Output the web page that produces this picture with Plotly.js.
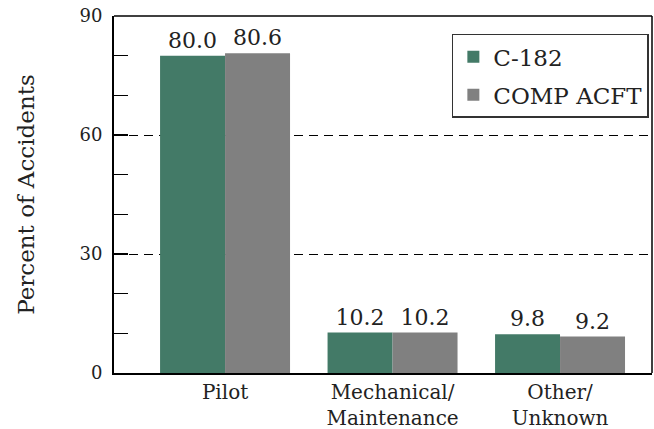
<!DOCTYPE html>
<html>
<head>
<meta charset="utf-8">
<script src="https://cdn.plot.ly/plotly-3.0.1.min.js"></script>
<style>html,body{margin:0;padding:0;background:#fff;}#chart{width:654px;height:429px;}</style>
</head>
<body>
<div id="chart"></div>
<script>
const categories = ["Pilot", "Mechanical/<br>Maintenance", "Other/<br>Unknown"];
const seriesNames = ["C-182", "COMP ACFT"];
const c182 = [80.0, 10.2, 9.8];
const compAcft = [80.6, 10.2, 9.2];
const yTicks = [0, 30, 60, 90];

const FONT = "DejaVu Serif, Liberation Serif, serif";
const fmt = v => v.toFixed(1);

const traces = [
  {type:'bar', name: seriesNames[0], legendgroup:'a', x: categories, y: c182,
   text: c182.map(fmt), textposition:'outside', constraintext:'none', cliponaxis:false,
   textfont:{family:FONT, size:22, color:'#222'},
   marker:{color:'#437a67'}},
  {type:'bar', name: seriesNames[1], legendgroup:'b', x: categories, y: compAcft,
   text: compAcft.map(fmt), textposition:'outside', constraintext:'none', cliponaxis:false,
   textfont:{family:FONT, size:22, color:'#222'},
   marker:{color:'#808080'}}
];

const layout = {
  width:654, height:429,
  margin:{l:114, r:2, t:16, b:56},
  paper_bgcolor:'#fff', plot_bgcolor:'#fff',
  font:{family:FONT, color:'#222'},
  barmode:'group', bargap:0.224, bargroupgap:0,
  showlegend:true,
  legend:{x:0.628, y:0.95, xanchor:'left', yanchor:'top',
    traceorder:'grouped', tracegroupgap:5,
    bordercolor:'#333', borderwidth:1.5, bgcolor:'#fff',
    font:{family:FONT, size:23, color:'#222'}},
  xaxis:{type:'category', range:[-0.663, 2.549], showline:true, linecolor:'#000', linewidth:2,
    ticks:'', showgrid:false, zeroline:false, ticklabelstandoff:0,
    tickfont:{family:FONT, size:20, color:'#222'}},
  yaxis:{range:[0,90], tickvals:yTicks, ticktext:yTicks.map(String),
    showline:true, linecolor:'#000', linewidth:2,
    ticks:'inside', ticklen:14, tickwidth:1.3, tickcolor:'#000',
    minor:{dtick:10, ticks:'inside', ticklen:14, tickwidth:1.3, tickcolor:'#000', showgrid:false},
    showgrid:true, gridcolor:'#000', gridwidth:1, griddash:'9px,6px',
    zeroline:false, ticklabelstandoff:6,
    tickfont:{family:FONT, size:18, color:'#222'},
    title:{text:'Percent of Accidents', font:{family:FONT, size:23, color:'#222'}, standoff:38}},
  shapes:[
    {type:'line', xref:'paper', yref:'paper', x0:0, x1:1, y0:1, y1:1, line:{color:'#000', width:1.5}},
    {type:'line', xref:'paper', yref:'paper', x0:1, x1:1, y0:0, y1:1, line:{color:'#000', width:1.5}}
  ]
};

Plotly.newPlot('chart', traces, layout, {displayModeBar:false, staticPlot:true});
</script>
</body>
</html>
